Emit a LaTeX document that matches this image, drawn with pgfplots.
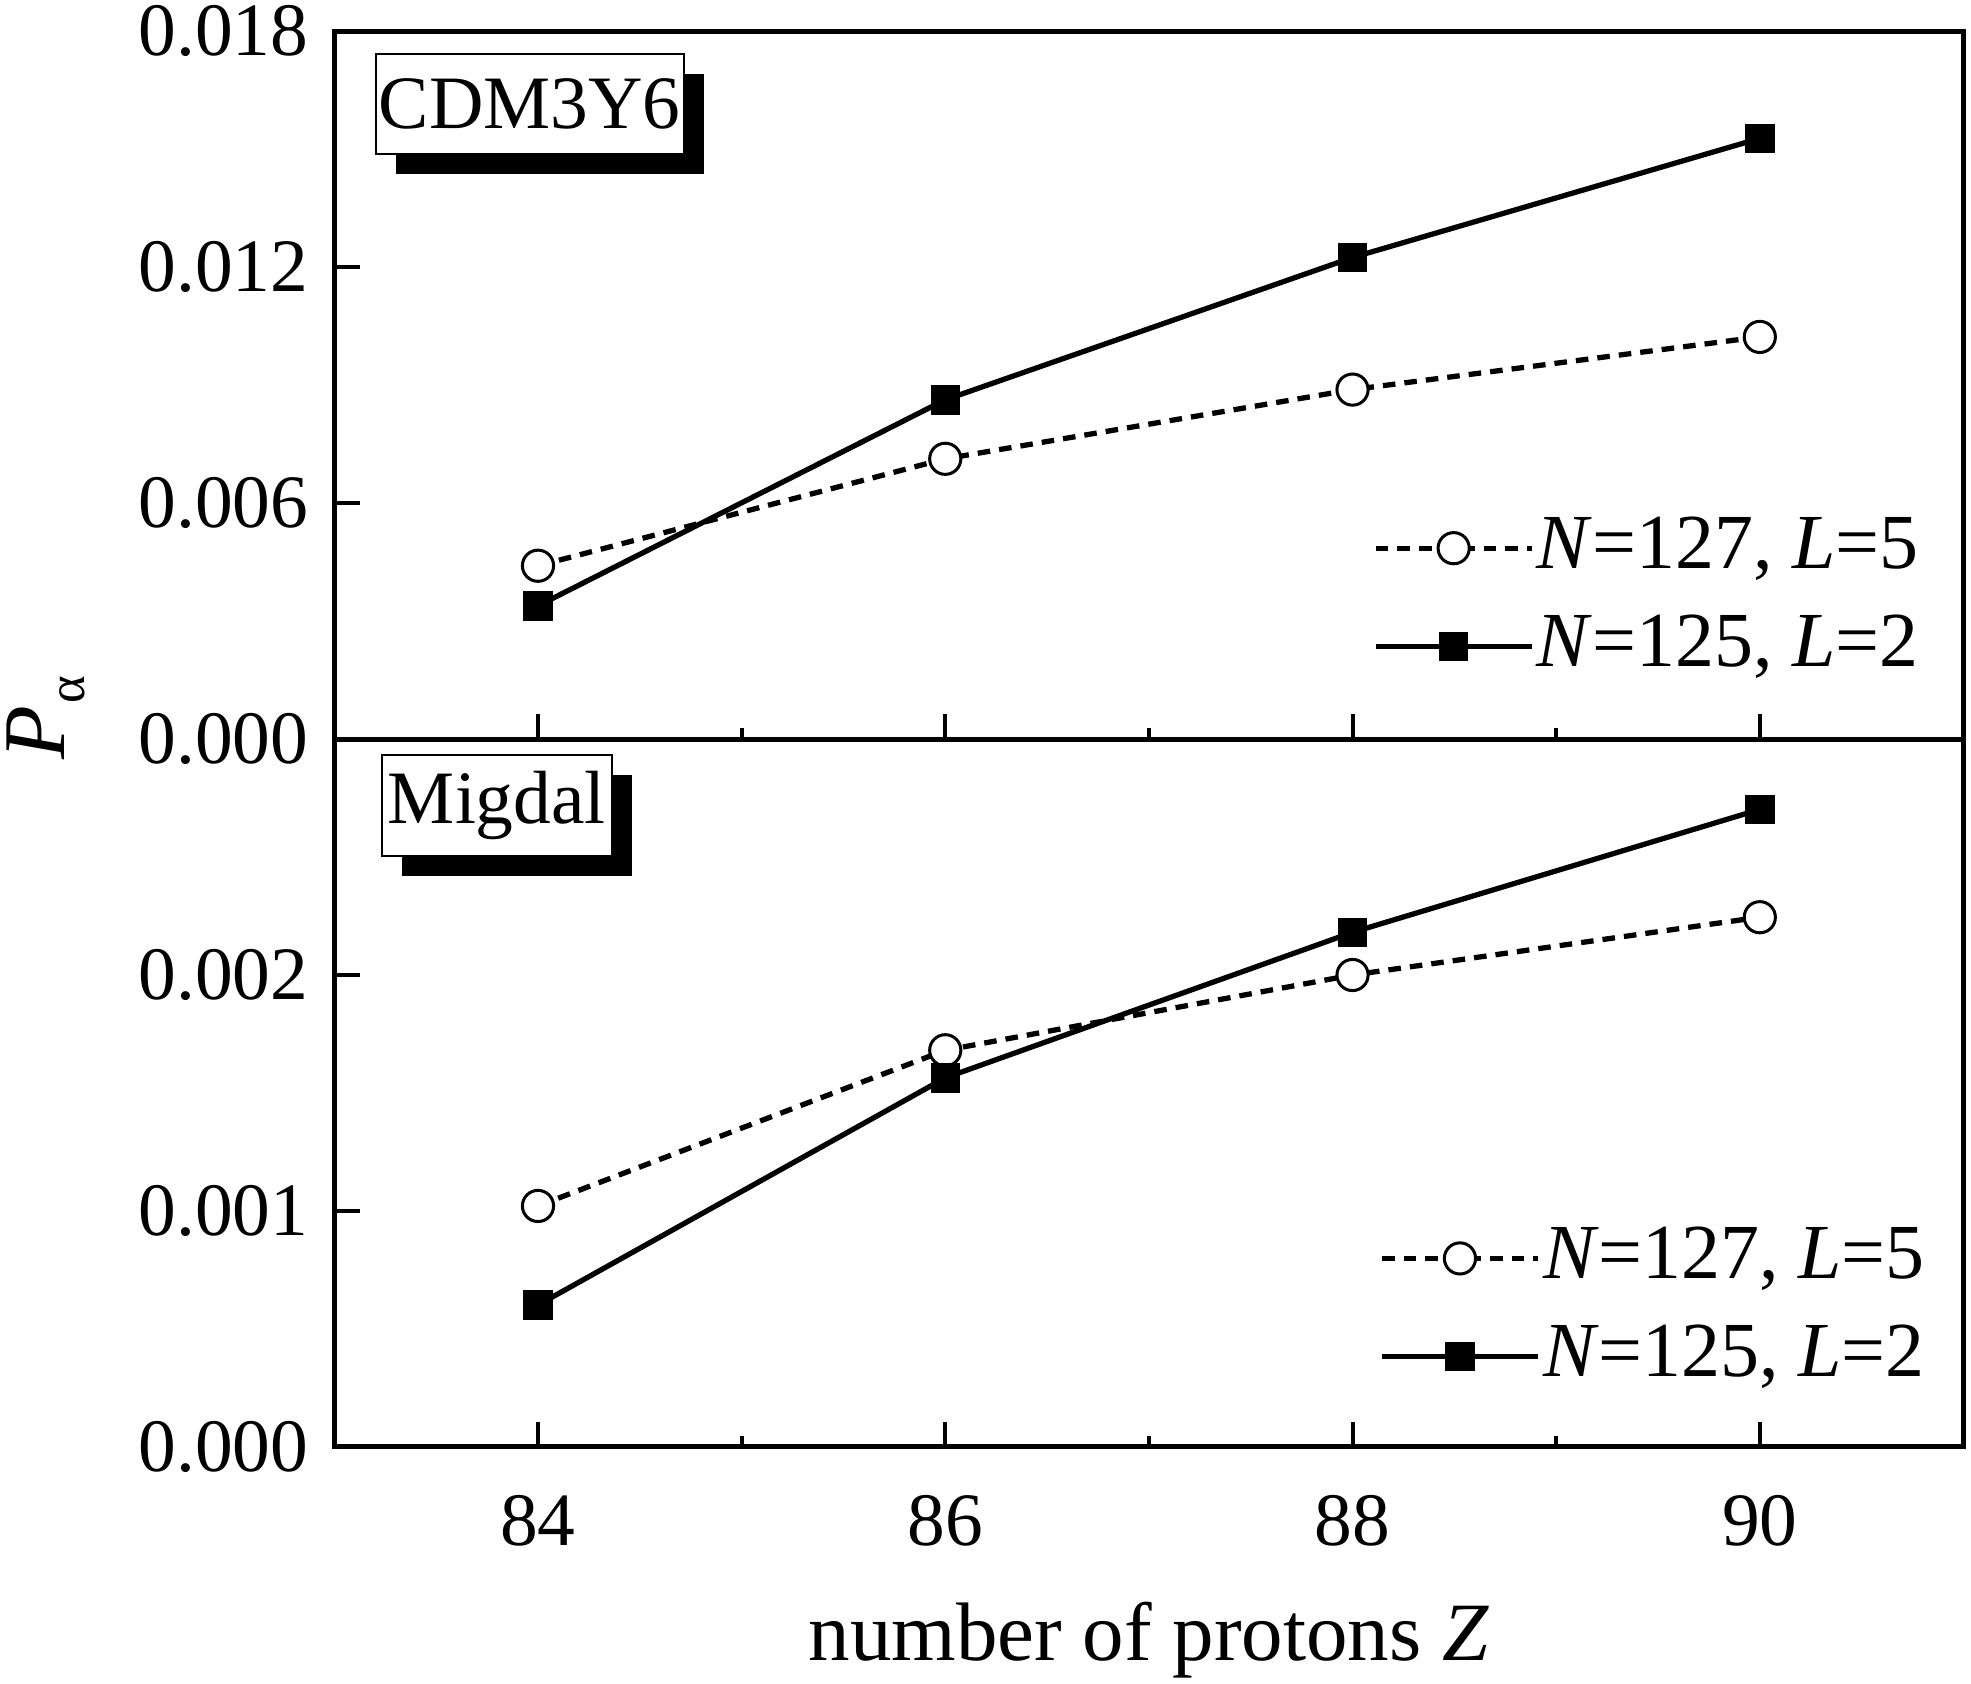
\documentclass[border=0pt]{standalone}
\usepackage{fontspec}
\setmainfont{Liberation Serif}
\usepackage{pgfplots}
\pgfplotsset{compat=1.18}
\usetikzlibrary{shadows}
\tikzset{
  lbox/.style={draw=black, line width=0.4pt, fill=white, anchor=north west, minimum height=20pt, inner sep=0pt,
    drop shadow={shadow xshift=4pt, shadow yshift=-4pt, fill=black, opacity=1}, font=\fontsize{15}{18}\selectfont},
}
\begin{document}
\fontsize{15}{18}\selectfont
\begin{tikzpicture}
\path[use as bounding box] (-66.5pt,-47pt) rectangle (325.5pt,287.75pt);
\pgfplotsset{
  panel/.style={
    scale only axis, width=324pt, height=140.75pt,
    xmin=83, xmax=91,
    xtick={84,86,88,90}, minor xtick={85,87,89},
    tick align=inside, xtick pos=bottom, ytick pos=left,
    major tick length=5pt, minor tick length=2.2pt,
    every tick/.style={black, line width=0.8pt},
    axis line style={line width=1pt},
    ymin=0,
    scaled y ticks=false,
    yticklabel style={/pgf/number format/fixed, /pgf/number format/fixed zerofill, /pgf/number format/precision=3, /pgf/number format/assume math mode=true},
    xticklabel style={/pgf/number format/assume math mode=true, yshift=-4.5pt},
    tick label style={font=\fontsize{15}{18}\selectfont},
    legend style={draw=none, fill=none, font=\fontsize{15.5}{18}\selectfont, row sep=3pt, inner sep=0pt,
      nodes={inner xsep=0.5pt}},
    legend cell align=left,
    legend image code/.code={\draw[mark repeat=2, mark phase=2, #1] plot coordinates {(0pt,0pt) (15.5pt,0pt) (31pt,0pt)};},
  },
  s1/.style={black, line width=1.05pt, dash pattern=on 2.5pt off 1.8pt, mark=*, mark size=3.1pt, mark options={solid, fill=white, draw=black, line width=0.6pt}},
  s2/.style={black, line width=1.05pt, mark=square*, mark size=2.4pt, mark options={solid}},
}
% bottom panel
\begin{axis}[panel, at={(0,0)}, anchor=south west,
  ymax=0.003, ytick={0,0.001,0.002},
  xlabel={number of protons \textit{Z}},
  xlabel style={at={(axis description cs:0.5,0)}, anchor=base, yshift=-42.5pt, font=\fontsize{16.5}{18}\selectfont},
  legend style={at={(axis description cs:1,0)}, anchor=south east, xshift=-7pt, yshift=9.5pt},
]
\addplot[s1] coordinates {(84,0.001021) (86,0.001681) (88,0.002000) (90,0.002245)};
\addlegendentry{\textit{N}=127, \textit{L}=5}
\addplot[s2] coordinates {(84,0.000601) (86,0.001564) (88,0.002181) (90,0.002702)};
\addlegendentry{\textit{N}=125, \textit{L}=2}
\node[lbox, minimum width=45.75pt, xshift=9.25pt, yshift=-3pt] at (rel axis cs:0,1) {Migdal};
\end{axis}
% top panel
\begin{axis}[panel, at={(0,140.75pt)}, anchor=south west,
  ymax=0.018, ytick={0,0.006,0.012,0.018}, xticklabels=\empty,
  legend style={at={(axis description cs:1,0)}, anchor=south east, xshift=-8.25pt, yshift=10pt},
]
\addplot[s1] coordinates {(84,0.00441) (86,0.00713) (88,0.00889) (90,0.01023)};
\addlegendentry{\textit{N}=127, \textit{L}=5}
\addplot[s2] coordinates {(84,0.00339) (86,0.00863) (88,0.01225) (90,0.01528)};
\addlegendentry{\textit{N}=125, \textit{L}=2}
\node[lbox, minimum width=61.25pt, xshift=8pt, yshift=-4.25pt] at (rel axis cs:0,1) {CDM3Y6};
\end{axis}
\node[rotate=90, anchor=base, font=\fontsize{17.5}{20}\selectfont] at (-53.75pt,145pt) {\textit{P}\kern0.5pt\raisebox{-4pt}{\fontsize{10.5}{12}\selectfont α}};
\end{tikzpicture}
\end{document}
